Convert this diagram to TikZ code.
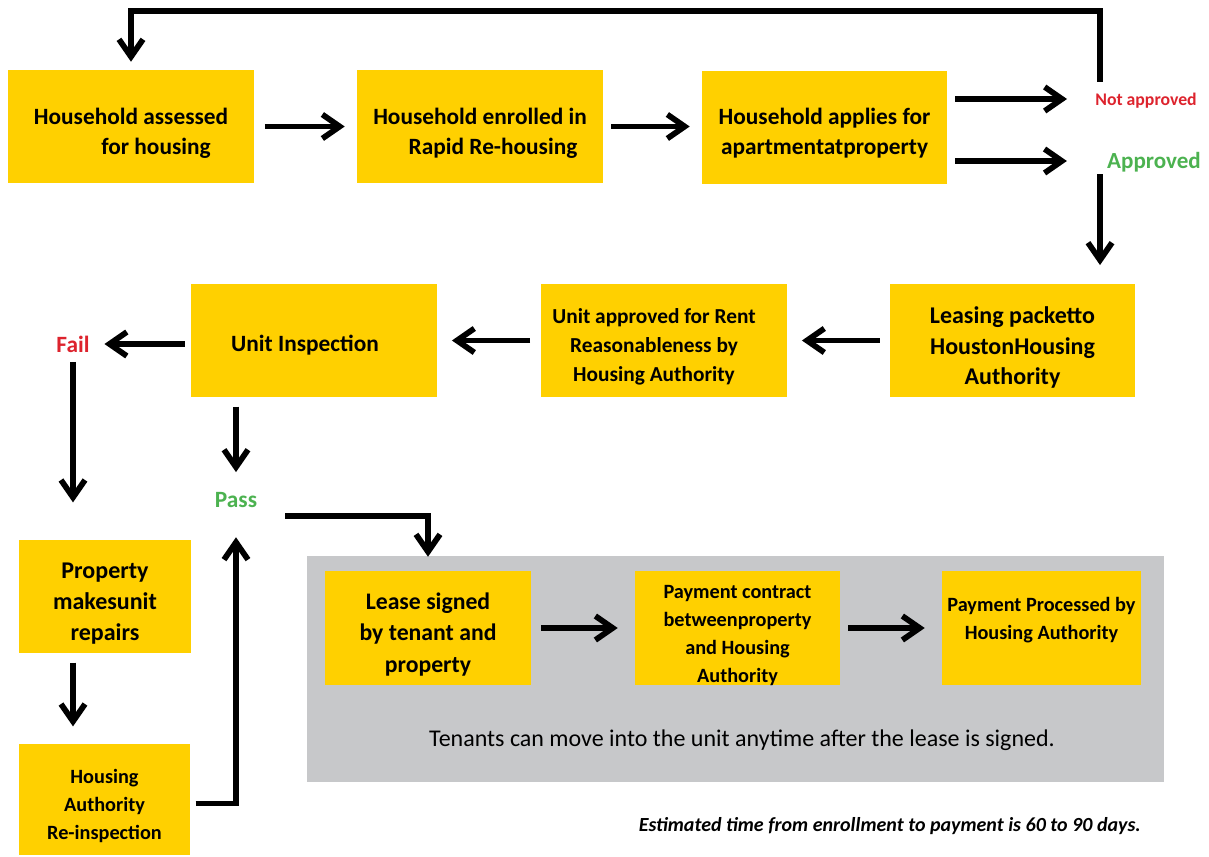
\documentclass[tikz,border=0pt]{standalone}
\usepackage{fontspec}
\setmainfont{Carlito}
\usetikzlibrary{arrows.meta,calc}
\definecolor{boxyellow}{RGB}{255,208,0}
\definecolor{panelgray}{RGB}{199,200,202}
\definecolor{notred}{RGB}{221,35,45}
\definecolor{okgreen}{RGB}{76,178,80}
\begin{document}
\begin{tikzpicture}[x=0.75pt,y=-0.75pt,
  box/.style={fill=boxyellow, draw=none, inner sep=0pt},
  txt/.style={align=center, inner sep=0pt},
  bigtxt/.style={txt,font=\bfseries\fontsize{17.5}{22.5}\selectfont},
  midtxt/.style={txt,font=\bfseries\fontsize{18}{23}\selectfont},
  smalltxt/.style={txt,font=\bfseries\fontsize{15.2}{21}\selectfont},
  arr/.style={line width=4.3pt, -{Straight Barb[length=13pt,width=18pt]}},
  lbl/.style={font=\bfseries, inner sep=3pt}]
\useasboundingbox (0,0) rectangle (1209,856);

% top row
\node[box,minimum width=184.5pt,minimum height=84.75pt] (A) at (131,126.5) {};
\node[bigtxt] (At) at ([shift={(0,6.5)}]A.center)
  {Household assessed\\\hspace*{37.5pt}for housing};
\node[box,minimum width=184.5pt,minimum height=84.75pt] (B) at (480,126.5) {};
\node[bigtxt] (Bt) at ([shift={(0,6.5)}]B.center)
  {Household enrolled in\\\hspace*{19.5pt}Rapid Re-housing};
\node[box,minimum width=183.75pt,minimum height=84.75pt] (C) at (824.5,127.5) {};
\node[bigtxt] (Ct) at ([shift={(0,6)}]C.center)
  {Household applies for\\apartmentatproperty};

\node[lbl,text=notred,font=\bfseries\fontsize{13.3}{16}\selectfont] (notap) at (1146,101) {Not approved};
\node[lbl,text=okgreen,font=\bfseries\fontsize{17.3}{20}\selectfont] (ap) at (1154,162) {Approved};
\coordinate (nt) at (1100,82);
\coordinate (ab) at (1100,174);

% middle row
\node[box,minimum width=183.75pt,minimum height=84.75pt] (D) at (1012.5,340.5) {};
\node[midtxt] (Dt) at ([shift={(0,7)}]D.center)
  {Leasing packetto\\HoustonHousing\\Authority};
\node[box,minimum width=184.5pt,minimum height=84.75pt] (E) at (664,340.5) {};
\node[txt,font=\bfseries\fontsize{16}{21.75}\selectfont] (Et) at ([shift={(-10,6)}]E.center)
  {Unit approved for Rent\\Reasonableness by\\Housing Authority};
\node[box,minimum width=184.5pt,minimum height=84.75pt] (F) at (314,340.5) {};
\node[bigtxt] (Ft) at ([shift={(-9,5)}]F.center) {Unit Inspection};

\node[lbl,text=notred,font=\bfseries\fontsize{17.5}{20}\selectfont] (fail) at (73,344) {Fail};
\node[lbl,text=okgreen,font=\bfseries\fontsize{17.5}{20}\selectfont] (pass) at (236,500) {Pass};
\coordinate (pstart) at (285,516);

% left column
\node[box,minimum width=129pt,minimum height=84.75pt] (G) at (105,596.5) {};
\node[midtxt] (Gt) at ([shift={(0,7)}]G.center)
  {Property\\makesunit\\repairs};
\node[box,minimum width=128.25pt,minimum height=83.25pt] (H) at (104.5,799.5) {};
\node[smalltxt] (Ht) at ([shift={(0,6.5)}]H.center)
  {Housing\\Authority\\Re-inspection};

% panel
\node[fill=panelgray,draw=none,inner sep=0pt,minimum width=642.75pt,minimum height=169.5pt] (panel) at (735.5,669) {};
\node[box,minimum width=154.5pt,minimum height=85.5pt] (I) at (428,628) {};
\node[txt,font=\bfseries\fontsize{17.8}{23.6}\selectfont] (It) at ([shift={(0,6.5)}]I.center)
  {Lease signed\\by tenant and\\property};
\node[box,minimum width=153.75pt,minimum height=85.5pt] (J) at (737.5,628) {};
\node[smalltxt] (Jt) at ([shift={(0,7.5)}]J.center)
  {Payment contract\\betweenproperty\\and Housing\\Authority};
\node[box,minimum width=149.25pt,minimum height=85.5pt] (K) at (1041.5,628) {};
\node[smalltxt] (Kt) at ([shift={(0,-8)}]K.center)
  {Payment Processed by\\Housing Authority};
\node[font=\fontsize{18}{21}\selectfont,inner sep=0pt] (tenants) at (742,740)
  {Tenants can move into the unit anytime after the lease is signed.};
\node[font=\bfseries\itshape\fontsize{15}{18}\selectfont,anchor=east,inner sep=0pt] (est) at (1141,826)
  {Estimated time from enrollment to payment is 60 to 90 days.};

% connectors
\draw[arr,shorten <=8pt,shorten >=9pt] (A.east) -- (B.west);
\draw[arr,shorten <=6pt,shorten >=9pt] (B.east) -- (C.west |- B.east);
\draw[arr,shorten <=6pt,shorten >=18pt] (C.east |- nt) ++(0,17) -- (notap.west |- 0,99);
\draw[arr,shorten <=6pt,shorten >=27pt] (C.east |- 0,161) -- (ap.west |- 0,161);
\draw[arr] (nt) -- ++(0,-71) -| ([yshift=6pt]A.north);
\draw[arr,shorten >=14pt] (ab) -- (ab |- D.north);
\draw[arr,shorten <=7.5pt,shorten >=11pt] (D.west) -- (E.east);
\draw[arr,shorten <=8pt,shorten >=11pt] (E.west) -- (F.east);
\draw[arr,shorten <=4.5pt,shorten >=8pt] (F.west |- fail) -- (fail.east);
\draw[arr,shorten <=4pt,shorten >=28pt] (fail.south) -- (fail.south |- G.north);
\draw[arr,shorten <=7pt,shorten >=12pt] (pass.north |- F.south) -- (pass.north);
\draw[arr] (pstart) -| ([yshift=10.5pt]I.north);
\draw[arr,shorten <=7pt,shorten >=13pt] (fail.south |- G.south) -- (fail.south |- H.north);
\draw[arr,shorten >=19pt] ([xshift=4pt,yshift=-3pt]H.east) -| (pass.south);
\draw[arr,shorten <=7.5pt,shorten >=12.75pt] (I.east) -- (J.west);
\draw[arr,shorten <=6pt,shorten >=12.75pt] (J.east) -- (K.west);
\end{tikzpicture}
\end{document}
